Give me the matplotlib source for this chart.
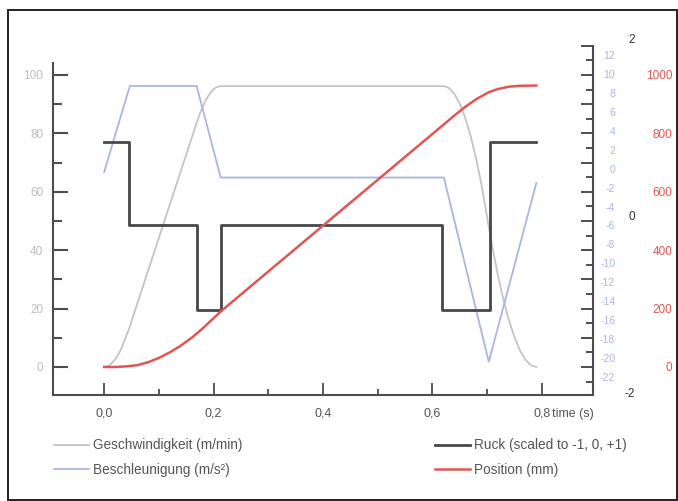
import matplotlib
matplotlib.use('Agg')
import matplotlib.pyplot as plt
from matplotlib.patches import Rectangle
from matplotlib.ticker import FixedLocator

plt.rcParams['font.family'] = ['Liberation Sans Narrow', 'Liberation Sans', 'DejaVu Sans']
plt.rcParams['axes.unicode_minus'] = False

# ---------------- data ----------------
vel_t = [0.000, 0.010, 0.020, 0.030, 0.045, 0.100, 0.169, 0.175, 0.180, 0.185, 0.190,
         0.195, 0.200, 0.205, 0.213,
         0.621, 0.630, 0.640, 0.650, 0.660, 0.670, 0.680, 0.690, 0.703,
         0.710, 0.720, 0.730, 0.740, 0.750, 0.760, 0.770, 0.780, 0.790]
vel_v = [0.0, 0.6, 2.5, 5.7, 12.8, 44.2, 83.6, 86.8, 89.1, 91.1, 92.7,
         94.1, 95.1, 95.8, 96.2,
         96.2, 95.6, 93.6, 90.2, 85.3, 79.0, 71.3, 62.1, 48.1,
         40.7, 31.1, 22.9, 15.9, 10.2, 5.7, 2.5, 0.6, 0.0]

acc_t = [0.000, 0.047, 0.169, 0.213, 0.621, 0.703, 0.790]
acc_v = [-0.35, 8.73, 8.73, -0.94, -0.94, -20.4, -1.5]

ruck_t = [0.000, 0.045, 0.169, 0.213, 0.617, 0.705, 0.790]
ruck_v = [0.83, -0.11, -1.07, -0.11, -1.07, 0.83, 0.83]

pos_t = [0.00, 0.02, 0.04, 0.06, 0.08, 0.10, 0.12, 0.14, 0.16, 0.18, 0.20, 0.213,
         0.30, 0.40, 0.50, 0.60, 0.621, 0.64, 0.66, 0.68, 0.703, 0.72, 0.74, 0.76, 0.79]
pos_v = [0, 0, 2, 6, 16, 31, 50, 73, 100, 132, 167, 190,
         327, 484, 641, 798, 831, 861, 891, 917, 941, 952, 960, 963, 964]

x_ticks = [0.0, 0.2, 0.4, 0.6, 0.8]
x_labels = ['0,0', '0,2', '0,4', '0,6', '0,8']
x_minor = [0.1, 0.3, 0.5, 0.7]
vel_ticks = [0, 20, 40, 60, 80, 100]
vel_minor = [10, 30, 50, 70, 90]
acc_ticks = list(range(12, -23, -2))
ruck_ticks = [-2, 0, 2]
pos_ticks = [0, 200, 400, 600, 800, 1000]
pos_major_marks = list(range(0, 1101, 100))
pos_minor_marks = list(range(-50, 1100, 100))

legend_labels = ['Geschwindigkeit (m/min)', 'Beschleunigung (m/s²)',
                 'Ruck (scaled to -1, 0, +1)', 'Position (mm)']

# ---------------- styles ----------------
C_VEL = '#c4c4c4'
C_ACC = '#a9b7e0'
C_RUCK = '#474747'
C_POS = '#e05555'
C_AX = '#4d4d4d'

W, H = 678, 501
fig = plt.figure(figsize=(W / 100, H / 100), dpi=100)

L, R, T, B = 53, 593, 38, 395
ax = fig.add_axes([L / W, 1 - B / H, (R - L) / W, (B - T) / H])
ax.patch.set_alpha(0)

ax_acc = ax.twinx()
ax_ruck = ax.twinx()
ax_pos = ax.twinx()

# limits (pixel-matched)
ax.set_xlim(-0.0935, 0.8935)
ax.set_ylim(-9.59, 112.67)
ax_acc.set_ylim(-23.90, 13.795)
ax_ruck.set_ylim(-2.023, 2.0005)
ax_pos.set_ylim(-95.9, 1126.7)

# lines
l_vel, = ax.plot(vel_t, vel_v, color=C_VEL, lw=1.3)
l_acc, = ax_acc.plot(acc_t, acc_v, color=C_ACC, lw=1.3)
l_ruck, = ax_ruck.plot(ruck_t, ruck_v, color=C_RUCK, lw=2.0, drawstyle='steps-post')
l_pos, = ax_pos.plot(pos_t, pos_v, color=C_POS, lw=1.8)

# spines
for a in (ax_acc, ax_ruck, ax_pos):
    for s in a.spines.values():
        s.set_visible(False)
ax.spines['top'].set_visible(False)
ax.spines['right'].set_visible(False)
ax.spines['left'].set_color(C_AX)
ax.spines['bottom'].set_color(C_AX)
ax.spines['left'].set_linewidth(1.5)
ax.spines['bottom'].set_linewidth(1.5)
ax.spines['left'].set_bounds(-9.59, 104.1)
ax_pos.spines['right'].set_visible(True)
ax_pos.spines['right'].set_color(C_AX)
ax_pos.spines['right'].set_linewidth(1.5)
ax_pos.spines['right'].set_bounds(-95.9, 1100)

# x axis
ax.xaxis.set_major_locator(FixedLocator(x_ticks))
ax.set_xticklabels(x_labels)
ax.xaxis.set_minor_locator(FixedLocator(x_minor))
ax.tick_params(axis='x', which='major', direction='in', length=9, width=1.3,
               color=C_AX, pad=9, labelsize=9, labelcolor='#555555')
ax.tick_params(axis='x', which='minor', direction='in', length=4.5, width=1.3, color=C_AX)
ax.text(0.818, -0.053, 'time (s)', transform=ax.get_xaxis_transform(),
        ha='left', va='center', fontsize=9, color='#555555')

# velocity axis (left)
ax.yaxis.set_major_locator(FixedLocator(vel_ticks))
ax.yaxis.set_minor_locator(FixedLocator(vel_minor))
ax.tick_params(axis='y', which='major', direction='in', length=10.8, width=1.5,
               color=C_AX, pad=7, labelsize=8.5, labelcolor='#bdbdbd')
ax.tick_params(axis='y', which='minor', direction='in', length=6.5, width=1.5, color=C_AX)

# acceleration labels
ax_acc.yaxis.set_major_locator(FixedLocator(acc_ticks))
ax_acc.tick_params(axis='y', length=0, pad=16, labelsize=7.5, labelcolor=C_ACC)
for lab in ax_acc.get_yticklabels():
    lab.set_ha('right')

# ruck labels
ax_ruck.yaxis.set_major_locator(FixedLocator(ruck_ticks))
ax_ruck.tick_params(axis='y', length=0, pad=30, labelsize=8.5, labelcolor='#333333')
for lab in ax_ruck.get_yticklabels():
    lab.set_ha('right')

# position axis: tick marks on spine, labels further right
ax_pos.yaxis.set_major_locator(FixedLocator(pos_major_marks))
ax_pos.yaxis.set_minor_locator(FixedLocator(pos_minor_marks))
ax_pos.set_yticklabels([str(v) if v in pos_ticks else '' for v in pos_major_marks])
ax_pos.tick_params(axis='y', which='major', direction='in', length=8.6, width=1.4,
                   color=C_AX, pad=57, labelsize=8.5, labelcolor=C_POS)
ax_pos.tick_params(axis='y', which='minor', direction='in', length=5, width=1.4, color=C_AX)
for lab in ax_pos.get_yticklabels():
    lab.set_ha('right')

# legends
leg_kw = dict(frameon=False, fontsize=9.8, handlelength=2.55, handletextpad=0.3,
              labelspacing=0.75, borderpad=0, borderaxespad=0, loc='center left',
              labelcolor='#555555')
fig.legend([l_vel, l_acc], legend_labels[:2], bbox_to_anchor=(54 / W, 1 - 457.5 / H), **leg_kw)
fig.legend([l_ruck, l_pos], legend_labels[2:], bbox_to_anchor=(435 / W, 1 - 457.5 / H), **leg_kw)

# outer frame
fig.patches.append(Rectangle((8 / W, 1 - 500 / H), (677 - 8) / W, (500 - 10) / H,
                             transform=fig.transFigure, fill=False, lw=1.4, ec='#222222'))

fig.savefig('out.png', dpi=100)
